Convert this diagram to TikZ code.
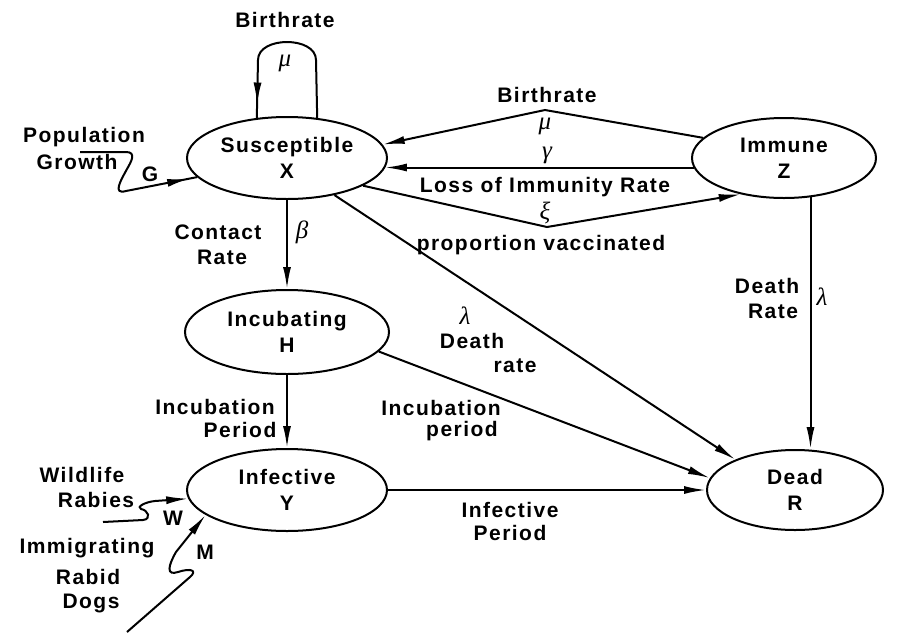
\documentclass[tikz,border=0pt]{standalone}
\usepackage{fontspec}
\setmainfont{Liberation Sans}[LetterSpace=7]
\newfontfamily\grk{Liberation Serif}
\usetikzlibrary{shapes.geometric,arrows.meta,decorations.markings,calc}

\begin{document}
\begin{tikzpicture}[x=1pt,y=-1pt,
  line width=2pt,
  every node/.style={inner sep=0pt},
  txt/.style={font=\fontsize{21}{26}\selectfont\bfseries, align=center},
  gk/.style={font=\fontsize{25}{26}\selectfont\grk\itshape},
  stnode/.style={draw, ellipse, txt, line width=2pt},
  arr/.style={-{Latex[length=22pt,width=8pt]}},
  arrowat/.style={postaction={decorate},
    decoration={markings,mark=at position #1 with {\arrow{Latex[length=22pt,width=8pt]}}}}
]
\useasboundingbox (0,0) rectangle (902,633);

% compartments
\node[stnode, minimum width=200pt, minimum height=82pt] (S) at (287,158) {Susceptible\\X};
\node[stnode, minimum width=184pt, minimum height=80pt] (Z) at (784,158) {Immune\\Z};
\node[stnode, minimum width=204pt, minimum height=84pt] (H) at (287,332) {Incubating\\H};
\node[stnode, minimum width=200pt, minimum height=82pt] (Y) at (287,490) {Infective\\Y};
\node[stnode, minimum width=176pt, minimum height=80pt] (D) at (795,490) {Dead\\R};

% birth loop on the susceptibles
\coordinate (loopR) at (316,60);
\coordinate (loopL) at (258,60);
\draw[arrowat=0.93] (S.53) -- (loopR) .. controls (316,36) and (258,36) .. (loopL) -- (S.127);

% population growth inflow
\coordinate (pg0) at (80,152);
\draw[arrowat=-8pt] (pg0) -- (126,152) .. controls (137,152) and (131,162) .. (127,169)
  .. controls (121,180) and (112,195) .. (126,191) -- (S.192);

% flows between susceptible and immune
\coordinate (bpk) at (545,110);
\draw[arr] (Z.166) -- (bpk) -- (S.8);
\draw[arr] (Z.186) -- (S.-6 |- Z.186);
\coordinate (xdip) at (547,227);
\draw[arr] (S.-20) -- (xdip) -- (Z.220);

% disease progression
\draw[arr] (S.south) -- (H.north);
\draw[arr] (H.south) -- (Y.north);
\draw[arr] (Y.east) -- (D.west);

% deaths
\draw[arr] (S.-38) -- (D.153);
\draw[arr] (H.-12) -- (D.172);
\draw[arr] (Z.-56) -- (Z.-56 |- D.north);

% external sources of infectives
\coordinate (w0) at (103,522);
\draw[arr] (w0) -- (143,520) .. controls (152,519) and (148,510) .. (141,509)
  .. controls (136,507) and (145,502) .. (155,501) -- (Y.185);
\coordinate (m0) at (127,632);
\draw[arr] (m0) -- (190,577) .. controls (198,570) and (190,568) .. (178,572)
  .. controls (166,576) and (168,566) .. (176,552) -- (Y.197);

% labels
\node[txt] (btop) at (285,20) {Birthrate};
\node[gk] (mutop) at (285,63) {μ};
\node[txt] (pop) at (84,137) {Population};
\node[txt] (grw) at (77,162) {Growth};
\node[txt] (gsym) at (150,174) {G};

\node[txt] (bright) at (547,95) {Birthrate};
\node[gk] (muright) at (545,126) {μ};
\node[gk] (gam) at (547,155) {γ};
\node[txt] (loss) at (545,187) {Loss of Immunity Rate};
\node[gk] (xi) at (545,213) {ξ};
\node[txt] (pvac) at (541,245) {proportion vaccinated};

\node[txt] (ct) at (218,232) {Contact};
\node[txt] (crt) at (222,257) {Rate};
\node[gk] (beta) at (302,232) {β};

\node[gk] (lam1) at (465,316) {λ};
\node[txt] (dth1) at (472,341) {Death};
\node[txt] (rt1) at (515,366) {rate};

\node[txt] (incl) at (215,407) {Incubation};
\node[txt] (perl) at (240,430) {Period};
\node[txt] (incr) at (441,408) {Incubation};
\node[txt] (perr) at (462,431) {period};

\node[txt] (dth2) at (767,286) {Death};
\node[txt] (rt2) at (773,311) {Rate};
\node[gk] (lam2) at (822,297) {λ};

\node[txt] (inf) at (510,510) {Infective};
\node[txt] (infp) at (510,533) {Period};

\node[txt] (wl) at (82,475) {Wildlife};
\node[txt] (rab) at (96,500) {Rabies};
\node[txt] (wsym) at (173,518) {W};
\node[txt] (imm) at (87,548) {Immigrating};
\node[txt] (rbd) at (88,577) {Rabid};
\node[txt] (dogs) at (91,603) {Dogs};
\node[txt] (msym) at (205,552) {M};
\end{tikzpicture}
\end{document}
